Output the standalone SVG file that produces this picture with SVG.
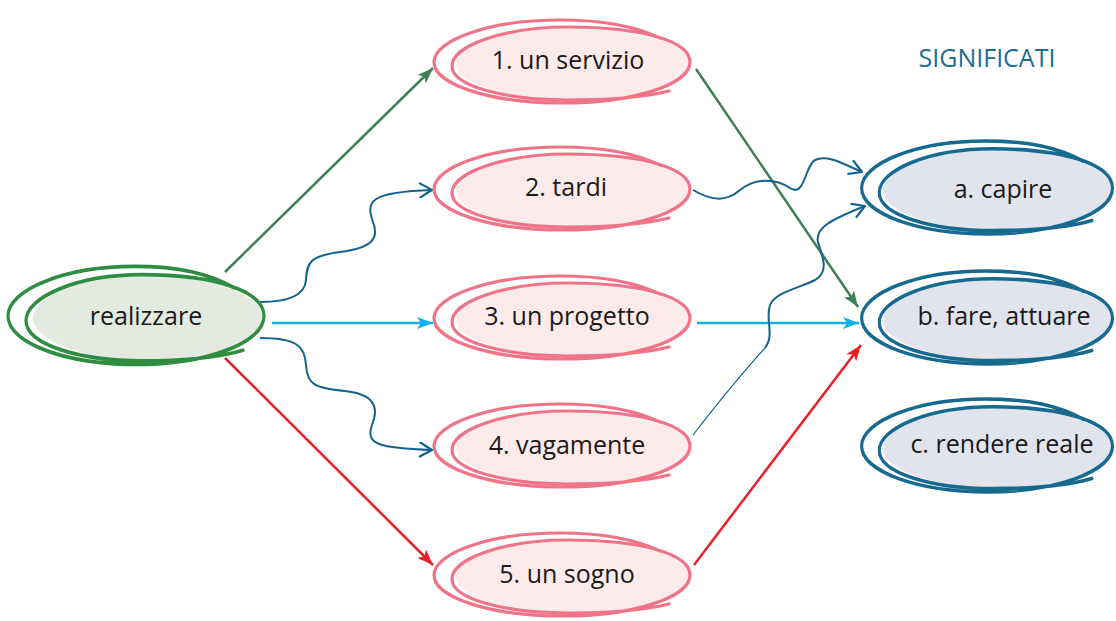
<svg xmlns="http://www.w3.org/2000/svg" xmlns:xlink="http://www.w3.org/1999/xlink" width="1116" height="621" viewBox="0 0 1116 621">
<style>
  .lbl{font-family:"Open Sans","Noto Sans","Liberation Sans",sans-serif;font-size:25px;fill:#1a1a1a;text-anchor:middle}
  .title{font-family:"Open Sans","Noto Sans","Liberation Sans",sans-serif;font-size:25px;fill:#1b6d95;text-anchor:middle}
  .loop{fill:none;stroke-width:3.2;stroke-linecap:round;stroke-linejoin:round}
  .pk{stroke:#ef7487}
  .gr{stroke:#2f8d42}
  .bl{stroke:#16698f}
  .fpk{fill:#fdeaea}
  .fgr{fill:#e5eae0}
  .fbl{fill:#e1e4ec}
  .c{fill:none;stroke-width:2.5}
  .w{fill:none;stroke-width:2;stroke:#14628f}
</style>
<defs>
  <path id="loops" d="M95,-24 C70,-36 40,-42 -5,-42 C-75,-42 -131,-22 -131,0 C-131,23 -73,41 -3,41 C67,41 125,23 125,0 C125,-20 80,-35 3,-35 C-62,-35 -113,-16 -113,4 C-113,24 -60,38 3,38 C50,38 80,35 104,29"/>
  <marker id="aG" viewBox="0 0 16 12" refX="16" refY="6" markerWidth="16" markerHeight="12" markerUnits="userSpaceOnUse" orient="auto"><path d="M0,0 L16,6 L0,12 L4,6 z" fill="#3f7f56"/></marker>
  <marker id="aC" viewBox="0 0 16 12" refX="16" refY="6" markerWidth="16" markerHeight="12" markerUnits="userSpaceOnUse" orient="auto"><path d="M0,0 L16,6 L0,12 L4,6 z" fill="#12b0ea"/></marker>
  <marker id="aR" viewBox="0 0 16 12" refX="16" refY="6" markerWidth="16" markerHeight="12" markerUnits="userSpaceOnUse" orient="auto"><path d="M0,0 L16,6 L0,12 L4,6 z" fill="#e8202a"/></marker>
  <marker id="aB" viewBox="0 0 16 16" refX="15" refY="8" markerWidth="16" markerHeight="16" markerUnits="userSpaceOnUse" orient="auto"><path d="M3,1 L15,8 L3,15" fill="none" stroke="#14628f" stroke-width="2.2" stroke-linecap="round" stroke-linejoin="round"/></marker>
</defs>
<rect width="1116" height="621" fill="#ffffff"/>

<g id="connectors">
  <path class="c" d="M225,272 L433,68" stroke="#3f7f56" marker-end="url(#aG)"/>
  <path class="c" d="M696,69 L858,307" stroke="#3f7f56" marker-end="url(#aG)"/>
  <path class="c" d="M272,323 L433,323" stroke="#12b0ea" stroke-width="3" marker-end="url(#aC)"/>
  <path class="c" d="M697,323 L859,323" stroke="#12b0ea" stroke-width="3" marker-end="url(#aC)"/>
  <path class="c" d="M225,358 L433,565" stroke="#e8202a" marker-end="url(#aR)"/>
  <path class="c" d="M694,565 L861,345" stroke="#e8202a" marker-end="url(#aR)"/>
  <path class="w" d="M260,302 C290,302 305,295 306,280 C307,262 310,256 340,252 C370,248 380,240 373,222 C365,200 372,192 432,190" marker-end="url(#aB)"/>
  <path class="w" d="M260,338 C295,338 305,345 306,365 C307,385 315,388 345,391 C372,394 380,405 372,425 C365,445 380,448 432,450" marker-end="url(#aB)"/>
  <path class="w" d="M693,190 C710,200 725,203 740,190 C755,178 775,178 790,188 C805,198 805,165 815,160 C828,154 845,165 862,172" marker-end="url(#aB)"/>
  <path d="M693,435 C720,400 745,370 765,348" fill="none" stroke="#14628f" stroke-width="1.2"/>
  <path class="w" d="M765,348 C775,335 765,320 770,305 C775,292 800,288 815,280 C830,272 822,255 818,242 C815,228 830,220 865,206" marker-end="url(#aB)"/>
</g>

<g id="realizzare">
  <ellipse class="fgr" cx="148" cy="318" rx="115" ry="42"/>
  <use xlink:href="#loops" class="loop gr" transform="translate(139,316) scale(1,1.18)"/>
  <text class="lbl" x="146" y="325">realizzare</text>
</g>

<g id="n1">
  <ellipse class="fpk" cx="573" cy="64" rx="117" ry="36"/>
  <use xlink:href="#loops" class="loop pk" transform="translate(565,62)"/>
  <text class="lbl" x="568" y="69">1. un servizio</text>
</g>
<g id="n2">
  <ellipse class="fpk" cx="573" cy="191" rx="117" ry="36"/>
  <use xlink:href="#loops" class="loop pk" transform="translate(565,189)"/>
  <text class="lbl" x="566" y="196">2. tardi</text>
</g>
<g id="n3">
  <ellipse class="fpk" cx="573" cy="320" rx="117" ry="36"/>
  <use xlink:href="#loops" class="loop pk" transform="translate(565,318)"/>
  <text class="lbl" x="567" y="325">3. un progetto</text>
</g>
<g id="n4">
  <ellipse class="fpk" cx="573" cy="448" rx="117" ry="36"/>
  <use xlink:href="#loops" class="loop pk" transform="translate(565,446)"/>
  <text class="lbl" x="567" y="454">4. vagamente</text>
</g>
<g id="n5">
  <ellipse class="fpk" cx="573" cy="577" rx="117" ry="36"/>
  <use xlink:href="#loops" class="loop pk" transform="translate(565,575)"/>
  <text class="lbl" x="567" y="583">5. un sogno</text>
</g>

<text class="title" x="987" y="67">SIGNIFICATI</text>

<g id="na">
  <ellipse class="fbl" cx="998" cy="190" rx="115" ry="40"/>
  <use xlink:href="#loops" class="loop bl" transform="translate(990,188) scale(0.98,1.12)"/>
  <text class="lbl" x="1003" y="198">a. capire</text>
</g>
<g id="nb">
  <ellipse class="fbl" cx="998" cy="320" rx="115" ry="40"/>
  <use xlink:href="#loops" class="loop bl" transform="translate(990,318) scale(0.98,1.12)"/>
  <text class="lbl" x="1004" y="325">b. fare, attuare</text>
</g>
<g id="nc">
  <ellipse class="fbl" cx="998" cy="448" rx="115" ry="40"/>
  <use xlink:href="#loops" class="loop bl" transform="translate(990,446) scale(0.98,1.12)"/>
  <text class="lbl" x="1002" y="453">c. rendere reale</text>
</g>
</svg>
